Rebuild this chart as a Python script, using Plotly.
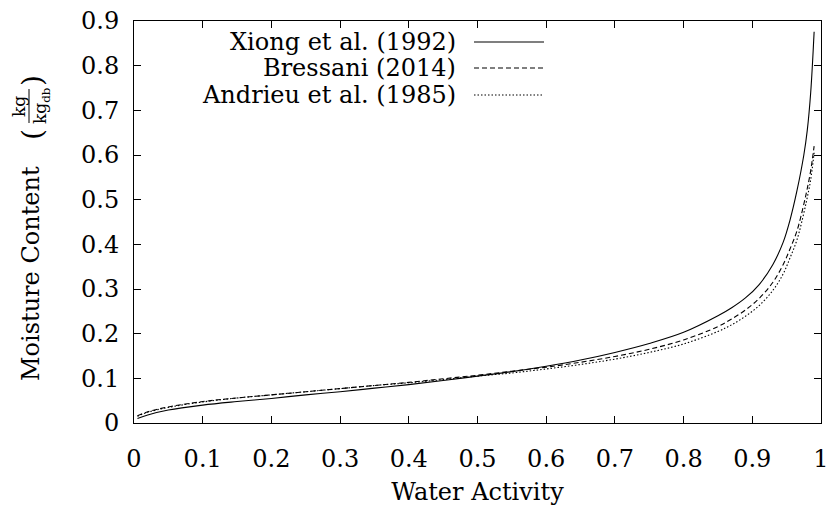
import plotly.graph_objects as go

# Water activity grid
aw = [0.005, 0.02, 0.05, 0.1, 0.15, 0.2, 0.25, 0.3, 0.35, 0.4, 0.45, 0.5, 0.55, 0.6,
      0.65, 0.7, 0.75, 0.8, 0.85, 0.87, 0.89, 0.91, 0.93, 0.945, 0.955, 0.965, 0.975,
      0.98, 0.985, 0.99]

xiong = [0.010, 0.018, 0.029, 0.040, 0.048, 0.055, 0.063, 0.070, 0.078, 0.086, 0.095, 0.105,
         0.115, 0.127, 0.141, 0.158, 0.178, 0.203, 0.240, 0.258, 0.280, 0.310, 0.355, 0.405,
         0.455, 0.52, 0.60, 0.655, 0.74, 0.876]
bressani = [0.016, 0.025, 0.036, 0.048, 0.056, 0.063, 0.070, 0.077, 0.084, 0.091, 0.099, 0.107,
            0.116, 0.125, 0.136, 0.149, 0.165, 0.186, 0.216, 0.233, 0.253, 0.279, 0.315, 0.355,
            0.39, 0.43, 0.49, 0.525, 0.565, 0.62]
andrieu = [0.015, 0.024, 0.035, 0.047, 0.056, 0.063, 0.070, 0.077, 0.084, 0.090, 0.097, 0.105,
           0.112, 0.121, 0.131, 0.143, 0.158, 0.177, 0.205, 0.220, 0.239, 0.263, 0.297, 0.334,
           0.37, 0.41, 0.47, 0.505, 0.545, 0.605]

names = ["Xiong et al. (1992)", "Bressani (2014)", "Andrieu et al. (1985)"]
dashes = ["solid", "5px,3px", "1.5px,2px"]
series = [xiong, bressani, andrieu]

x_ticks = [0, 0.1, 0.2, 0.3, 0.4, 0.5, 0.6, 0.7, 0.8, 0.9, 1]
x_labels = ["0", "0.1", "0.2", "0.3", "0.4", "0.5", "0.6", "0.7", "0.8", "0.9", "1"]
y_ticks = [0, 0.1, 0.2, 0.3, 0.4, 0.5, 0.6, 0.7, 0.8, 0.9]
y_labels = ["0", "0.1", "0.2", "0.3", "0.4", "0.5", "0.6", "0.7", "0.8", "0.9"]

FONT = "DejaVu Serif"
FS = 24
W, H = 833, 506
L, R, T, B = 134, 12, 21, 83
PW, PH = W - L - R, H - T - B

def px(x):
    return (x - L) / PW

def py(y):
    return (H - B - y) / PH

fig = go.Figure()
for name, ys, d in zip(names, series, dashes):
    fig.add_trace(go.Scatter(x=aw, y=ys, mode="lines", name=name, line_shape="spline",
                             line=dict(color="black", width=1.1, dash=d), showlegend=False))

axis_common = dict(showline=True, linecolor="black", linewidth=1, mirror="ticks",
                   ticks="inside", ticklen=7, tickcolor="black", tickwidth=1,
                   showgrid=False, zeroline=False, automargin=False,
                   tickfont=dict(family=FONT, size=FS, color="black"))

fig.update_xaxes(range=[0, 1], tickvals=x_ticks, ticktext=x_labels,
                 title=dict(text="Water Activity", font=dict(family=FONT, size=FS, color="black"),
                            standoff=12),
                 ticklabelstandoff=14, **axis_common)
fig.update_yaxes(range=[0, 0.9], tickvals=y_ticks, ticktext=y_labels,
                 ticklabelstandoff=9, **axis_common)

annotations = []
shapes = []
# custom legend (text left, sample line right)
leg_y = [42, 68, 95]
for name, d, yy in zip(names, dashes, leg_y):
    annotations.append(dict(x=px(458), y=py(yy), xref="paper", yref="paper", text=name,
                            showarrow=False, xanchor="right", yanchor="middle",
                            font=dict(family=FONT, size=FS, color="black")))
    shapes.append(dict(type="line", xref="paper", yref="paper", x0=px(474), x1=px(544),
                       y0=py(yy), y1=py(yy), line=dict(color="black", width=1.1, dash=d)))

# y axis title with fraction
annotations.append(dict(x=px(31), y=py(274), xref="paper", yref="paper", text="Moisture Content",
                        showarrow=False, textangle=-90, xanchor="center", yanchor="middle",
                        font=dict(family=FONT, size=FS, color="black")))
annotations.append(dict(x=px(32), y=py(134), xref="paper", yref="paper", text="(",
                        showarrow=False, textangle=-90, xanchor="center", yanchor="middle",
                        font=dict(family=FONT, size=28, color="black")))
annotations.append(dict(x=px(32), y=py(80), xref="paper", yref="paper", text=")",
                        showarrow=False, textangle=-90, xanchor="center", yanchor="middle",
                        font=dict(family=FONT, size=28, color="black")))
annotations.append(dict(x=px(19), y=py(106), xref="paper", yref="paper", text="kg",
                        showarrow=False, textangle=-90, xanchor="center", yanchor="middle",
                        font=dict(family=FONT, size=17, color="black")))
annotations.append(dict(x=px(42), y=py(106), xref="paper", yref="paper", text="kg<sub>db</sub>",
                        showarrow=False, textangle=-90, xanchor="center", yanchor="middle",
                        font=dict(family=FONT, size=17, color="black")))
shapes.append(dict(type="line", xref="paper", yref="paper", x0=px(29), x1=px(29),
                   y0=py(89), y1=py(123), line=dict(color="black", width=1)))

fig.update_layout(width=W, height=H, margin=dict(l=L, r=R, t=T, b=B, autoexpand=False),
                  plot_bgcolor="white", paper_bgcolor="white",
                  font=dict(family=FONT, color="black"),
                  annotations=annotations, shapes=shapes, showlegend=False)

fig.write_html("out.html")
